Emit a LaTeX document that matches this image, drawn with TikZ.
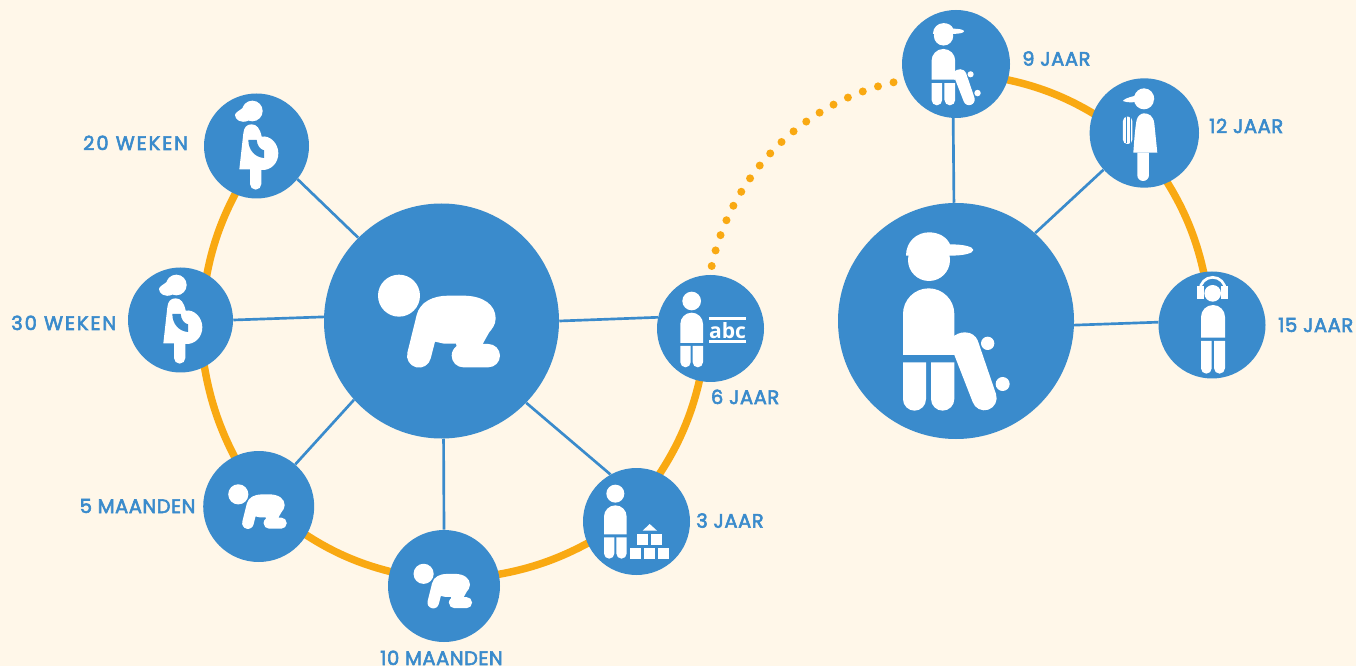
\documentclass[tikz,border=0pt]{standalone}
\usepackage{fontspec}
\usetikzlibrary{backgrounds}
\newfontfamily\labfont[LetterSpace=3,FakeBold=3]{Poppins}
\newfontfamily\labwide[LetterSpace=10,FakeBold=3]{Poppins}
\newfontfamily\abcfont{Open Sans}
\definecolor{paper}{HTML}{FFF7E9}
\definecolor{bluec}{HTML}{3A8BCC}
\definecolor{orangec}{HTML}{F9A912}
\def\torsoshape#1#2#3#4{({#1},{#4}) -- ({#1},{#3+(#2-#1)/2}) arc[start angle=180,end angle=360,radius={(#2-#1)/2}] -- ({#2},{#4}) -- cycle}
\def\legshape#1#2#3#4{({#1},{#3}) -- ({#1},{#4-(#2-#1)/2}) arc[start angle=180,end angle=0,radius={(#2-#1)/2}] -- ({#2},{#3}) -- cycle}
\tikzset{
  spot/.style={circle,fill=bluec,inner sep=0pt,minimum size=#1*0.75pt},
  lab/.style={text=bluec,font=\labfont\fontsize{14.6pt}{16pt}\selectfont,inner sep=0pt,anchor=base west},
  labw/.style={lab,font=\labwide\fontsize{14.6pt}{16pt}\selectfont},
  spoke/.style={draw=bluec,line width=2pt},
  ring/.style={draw=orangec,line width=5.6pt,looseness=0.85,shorten <=-4pt,shorten >=-4pt},
  dotted path/.style={draw=orangec,line width=6pt,line cap=round,dash pattern=on 0pt off 12.04pt,looseness=0.925},
  zoomed/.style 2 args={scale=0.33333,shift={(-#1,-#2)}},
  crawler/.pic={
    \begin{scope}[zoomed={364.5}{363}]
      \fill[white] (237,287) circle[radius=63];
      \fill[white] (262,458.5) -- (290,345) .. controls (300,305) and (340,287) .. (385,287) -- (430,287)
        .. controls (490,287) and (527,315) .. (527,355) .. controls (527,375) and (515,388) .. (507,398)
        -- (488,432) -- (505,432) arc[start angle=-90,end angle=90,radius=35] -- (430,502)
        arc[start angle=90,end angle=235,radius=35] -- (408,431) -- (372,431) -- (345,425) -- (332,475.5)
        arc[start angle=13.7,end angle=193.7,radius=36] -- cycle;
    \end{scope}
  },
  pregnant/.pic={
    \begin{scope}[zoomed={409.5}{168}]
      \fill[white] (397,63) circle[radius=31];
      \fill[white] (368,54) .. controls (358,62) and (345,68) .. (345,75) .. controls (345,88) and (362,102) .. (385,92) -- cycle;
      \fill[white] (395,103) .. controls (380,103) and (372,112) .. (370,130) -- (358,238) -- (390,238) -- (390,282)
        arc[start angle=180,end angle=0,radius=17] -- (424,240) .. controls (452,242) and (475,220) .. (475,190)
        .. controls (475,160) and (450,135) .. (425,140) .. controls (420,115) and (410,103) .. (395,103) -- cycle;
      \fill[bluec] (385,150) -- (410,150) .. controls (412,168) and (420,178) .. (432,181) -- (432,204)
        .. controls (405,202) and (385,180) .. (385,150) -- cycle;
    \end{scope}
  },
  schoolkid/.pic={
    \begin{scope}[zoomed={406.5}{175.5}]
      \fill[white] (350,93) circle[radius=28];
      \fill[white] \torsoshape{316}{384}{128}{219};
      \fill[white] \legshape{316}{347}{228}{292};
      \fill[white] \legshape{353}{384}{228}{292};
      \fill[white] (402,141) rectangle (513,150);
      \fill[white] (402,209) rectangle (513,218);
      \node[text=white,inner sep=0pt,font=\abcfont\bfseries\fontsize{15.8pt}{16pt}\selectfont] (abctext) at (457.5,181) {abc};
    \end{scope}
  },
  blockkid/.pic={
    \begin{scope}[zoomed={184.5}{754.5}]
      \fill[white] (121,671) circle[radius=27];
      \fill[white] \torsoshape{87}{155}{706}{793};
      \fill[white] \legshape{87}{118}{802}{866};
      \fill[white] \legshape{124}{155}{802}{866};
      \fill[white] (166,834) rectangle (198,866);
      \fill[white] (208,834) rectangle (240,866);
      \fill[white] (250,834) rectangle (282,866);
      \fill[white] (187,792) rectangle (219,824);
      \fill[white] (229,792) rectangle (261,824);
      \fill[white] (203,782) -- (224,762) -- (246,782) -- cycle;
    \end{scope}
  },
  skater/.pic={
    \begin{scope}[zoomed={363}{363}]
      \fill[white] (282,180) circle[radius=63];
      \fill[white] (213,167) .. controls (213,125) and (245,97) .. (282,97) .. controls (310,97) and (335,110) .. (345,133)
        .. controls (385,133) and (415,140) .. (415,150) .. controls (415,160) and (385,167) .. (345,167) -- cycle;
      \fill[white] \torsoshape{204}{358}{265}{465};
      \fill[white] \legshape{204}{273}{487}{632};
      \fill[white] \legshape{288}{358}{487}{632};
      \fill[white] (350,413) .. controls (362,403) and (375,397) .. (390,397) .. controls (410,397) and (422,408) .. (428,421)
        -- (483,582) arc[start angle=-18.9,end angle=161.1,radius=37] -- (358,465) -- (350,465) -- cycle;
      \fill[white] (458,430) circle[radius=20];
      \fill[white] (503,552) circle[radius=21];
    \end{scope}
  },
  capgirl/.pic={
    \begin{scope}[zoomed={748}{399}]
      \fill[white] (747,298) circle[radius=30];
      \fill[white] (778,298) .. controls (778,280) and (765,265) .. (747,265) .. controls (733,265) and (722,275) .. (718,288)
        .. controls (700,292) and (686,298) .. (684,303) .. controls (695,308) and (715,308) .. (725,305) -- cycle;
      \fill[white] (715,458) .. controls (718,420) and (720,385) .. (725,360) .. controls (728,348) and (738,340) .. (747,340)
        .. controls (762,340) and (775,348) .. (778,370) -- (787,458) -- cycle;
      \fill[white] \legshape{727}{762}{458}{543};
      \fill[white,rounded corners=3.2pt] (684,350) rectangle (712,432);
      \fill[bluec] (692,352) rectangle (695,430);
      \fill[bluec] (704,352) rectangle (707,430);
    \end{scope}
  },
  headphonekid/.pic={
    \begin{scope}[zoomed={171}{180}]
      \fill[white] (173,85) circle[radius=25];
      \draw[white,line width=2pt] (135,75) arc[start angle=180,end angle=360,radius=38];
      \fill[white] (127,62) rectangle (147,102);
      \fill[white] (199,62) rectangle (220,102);
      \fill[white] \torsoshape{138}{210}{120}{218};
      \fill[white] \legshape{138}{170}{228}{326};
      \fill[white] \legshape{177}{210}{228}{326};
    \end{scope}
  }
}
\begin{document}
\begin{tikzpicture}[x=0.75pt,y=-0.75pt]
\useasboundingbox (0,0) rectangle (1356,666);
% circles
\node[spot=235] (hubL) at (441.5,321) {};
\node[spot=236] (hubR) at (956,321) {};
\node[spot=105] (w20) at (256.5,146) {};
\node[spot=105] (w30) at (180.5,320) {};
\node[spot=111] (m5) at (258.7,506.5) {};
\node[spot=112] (m10) at (444,586) {};
\node[spot=107] (j3) at (636.5,521.5) {};
\node[spot=107] (j6) at (710.5,328.5) {};
\node[spot=108] (j9) at (956,64) {};
\node[spot=109.4] (j12) at (1144.3,133) {};
\node[spot=107] (j15) at (1212,325) {};
\coordinate (dotA) at (711.7,266);
\coordinate (dotB) at (893.7,82.3);
\begin{pgfonlayer}{background}
  \fill[paper] (0,0) rectangle (1356,666);
  % orange ring, left
  \draw[ring] (w20.246) to[bend right=9.4] (w30.60.6);
  \draw[ring] (w30.297) to[bend right=9.7] (m5.116);
  \draw[ring] (m5.329) to[bend right=10.3] (m10.165.5);
  \draw[ring] (m10.12) to[bend right=10] (j3.204);
  \draw[ring] (j3.64.6) to[bend right=11] (j6.258);
  % orange ring, right
  \draw[ring] (j9.343) to[bend left=10.3] (j12.159);
  \draw[ring] (j12.295) to[bend left=10.6] (j15.99);
  % spokes
  \draw[spoke] (w20.321) -- (hubL.135);
  \draw[spoke] (w30.0) -- (hubL.178.3);
  \draw[spoke] (m5.49.4) -- (hubL.222.7);
  \draw[spoke] (m10.90) -- (hubL.271.2);
  \draw[spoke] (j3.119) -- (hubL.316.5);
  \draw[spoke] (j6.168.6) -- (hubL.0);
  \draw[spoke] (j9.267.9) -- (hubR.91);
  \draw[spoke] (j12.222) -- (hubR.48.4);
  \draw[spoke] (j15.177.3) -- (hubR.358.3);
\end{pgfonlayer}
\draw[dotted path] (dotA) to[bend left=32.6] (dotB);
% icons
\pic at (hubL.center) {crawler};
\pic[scale=0.48] at (m5.center) {crawler};
\pic[scale=0.48] at (m10.center) {crawler};
\pic at (w20.center) {pregnant};
\pic at (w30.center) {pregnant};
\pic at (j6.center) {schoolkid};
\pic at (j3.center) {blockkid};
\pic at (hubR.center) {skater};
\pic[scale=0.461] at (j9.center) {skater};
\pic at (j12.center) {capgirl};
\pic at (j15.center) {headphonekid};
% labels
\node[labw] (l20) at (83,150) {20 WEKEN};
\node[labw] (l30) at (11,330) {30 WEKEN};
\node[lab] (l5) at (79.5,513) {5 MAANDEN};
\node[lab] (l10) at (380,665) {10 MAANDEN};
\node[lab] (l3) at (696,527.7) {3 JAAR};
\node[lab] (l6) at (710.7,404) {6 JAAR};
\node[lab] (l9) at (1022,65.7) {9 JAAR};
\node[lab] (l12) at (1209,133) {12 JAAR};
\node[lab] (l15) at (1278,332) {15 JAAR};
\end{tikzpicture}
\end{document}
